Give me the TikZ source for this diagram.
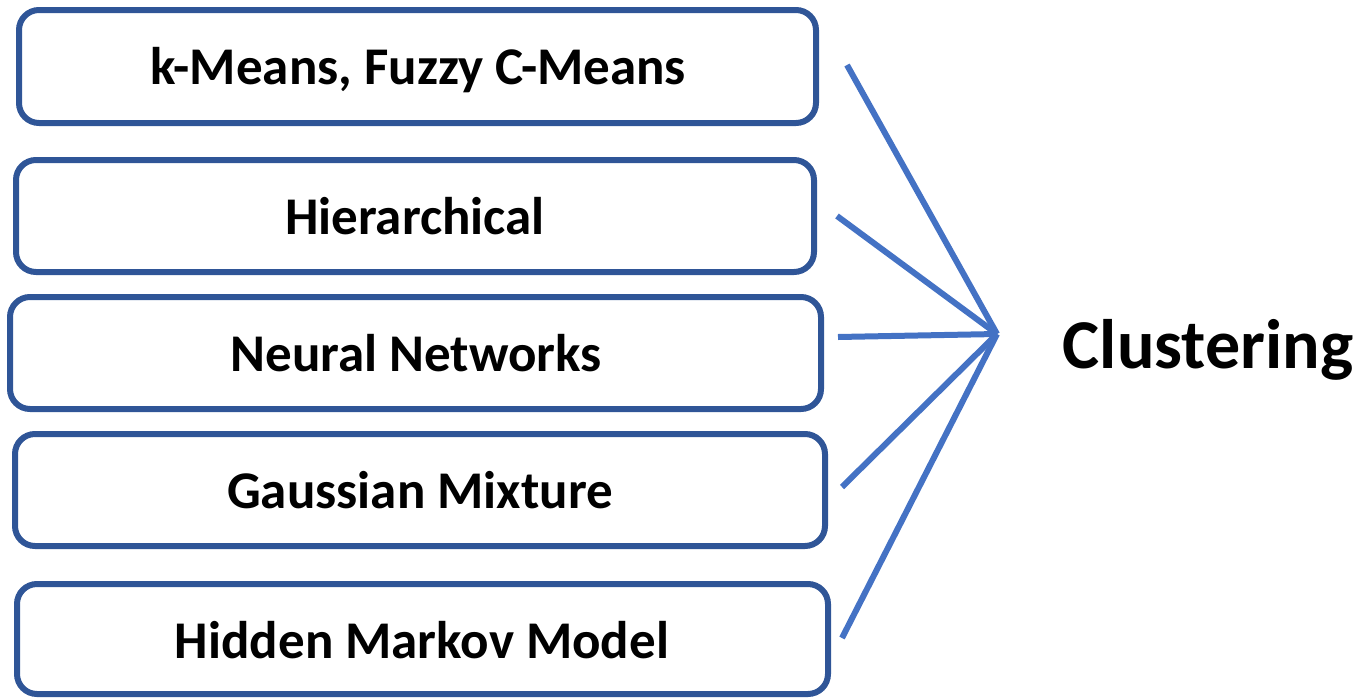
\documentclass[tikz,border=0pt]{standalone}
\usepackage{fontspec}
\setmainfont{Carlito}
\definecolor{boxline}{HTML}{2F5597}
\definecolor{linkblue}{HTML}{4472C4}
\begin{document}
\begin{tikzpicture}[x=1pt,y=-1pt,
  method/.style={draw=boxline, line width=6pt, rounded corners=20pt},
  label/.style={font=\fontsize{53}{63}\selectfont\bfseries, anchor=base, inner sep=0pt},
  link/.style={draw=linkblue, line width=6pt}]
\useasboundingbox (0,0) rectangle (1361,697);
% method boxes
\draw[method] (19,10) rectangle (816,123);
\draw[method] (16,160) rectangle (814,272);
\draw[method] (10,297) rectangle (821,409);
\draw[method] (15,434) rectangle (825,546);
\draw[method] (17,584) rectangle (828,694);
\node[label] (km) at (418,84) {k-Means, Fuzzy C-Means};
\node[label] (hi) at (415,234) {Hierarchical};
\node[label] (nn) at (416,371) {Neural Networks};
\node[label] (gm) at (420,508) {Gaussian Mixture};
\node[label] (hm) at (422,658) {Hidden Markov Model};
% line ends and the common apex
\coordinate (a1) at (847,65);
\coordinate (a2) at (837,216);
\coordinate (a3) at (838,337);
\coordinate (a4) at (842,487);
\coordinate (a5) at (842,638);
\coordinate (apex) at (997,334);
\draw[link] (a1) -- (apex);
\draw[link] (a2) -- (apex);
\draw[link] (a3) -- (apex);
\draw[link] (a4) -- (apex);
\draw[link] (a5) -- (apex);
\node[font=\fontsize{70}{82}\selectfont\bfseries, anchor=base, inner sep=0pt] (cl) at (1208,368) {Clustering};
\end{tikzpicture}
\end{document}
